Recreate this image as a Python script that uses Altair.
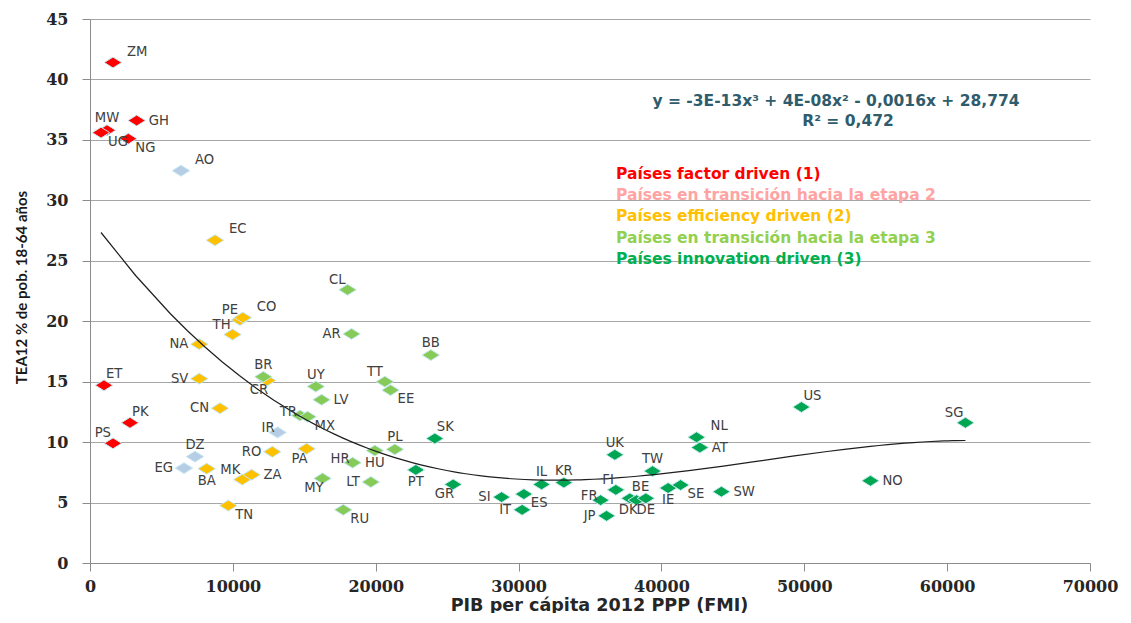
import altair as alt
import pandas as pd

# ---------------- data ----------------
codes = ["ZM", "MW", "UG", "GH", "NG", "ET", "PK", "PS",
         "AO", "IR", "DZ", "EG",
         "EC", "PE", "CO", "TH", "NA", "SV", "CR", "CN", "RO", "PA", "BA", "MK", "ZA", "TN",
         "CL", "AR", "BB", "BR", "UY", "LV", "TT", "EE", "TR", "MX", "HU", "PL", "HR", "MY", "LT", "RU",
         "SK", "PT", "GR", "SI", "ES", "IT", "IL", "KR", "UK", "FI", "FR", "JP", "BE", "DK", "DE",
         "TW", "IE", "SE", "NL", "AT", "SW", "US", "NO", "SG"]

gdp = [1610, 1190, 770, 3270, 2680, 980, 2800, 1610,
       6370, 13130, 7350, 6580,
       8750, 10500, 10700, 9980, 7650, 7650, 12400, 9100, 12760, 15160, 8170, 10660, 11310, 9680,
       18030, 18310, 23860, 12130, 15810, 16210, 20640, 21040, 14700, 15230, 19940, 21340, 18380, 16280, 19660, 17730,
       24140, 22810, 25420, 28810, 30370, 30250, 31610, 33170, 36740, 36810, 35740, 36160, 37790, 38260, 38910,
       39380, 40470, 41340, 42460, 42690, 44200, 49800, 54630, 61280]

tea = [41.4, 35.8, 35.6, 36.6, 35.1, 14.7, 11.6, 9.9,
       32.45, 10.8, 8.8, 7.85,
       26.7, 20.1, 20.3, 18.9, 18.1, 15.25, 15.1, 12.8, 9.2, 9.45, 7.8, 6.9, 7.3, 4.75,
       22.6, 18.95, 17.2, 15.4, 14.6, 13.5, 15.0, 14.3, 12.2, 12.1, 9.3, 9.4, 8.3, 7.0, 6.7, 4.4,
       10.3, 7.7, 6.5, 5.45, 5.7, 4.4, 6.5, 6.65, 8.95, 6.05, 5.2, 3.9, 5.35, 5.2, 5.35,
       7.6, 6.2, 6.45, 10.4, 9.55, 5.9, 12.9, 6.8, 11.6]

groups = (["factor"] * 8 + ["trans2"] * 4 + ["efficiency"] * 14 +
          ["trans3"] * 16 + ["innovation"] * 24)

group_names = ["factor", "trans2", "efficiency", "trans3", "innovation"]
marker_colors = ["#FF0000", "#B7CDE6", "#FFC000", "#86CA57", "#00A651"]

legend_labels = ["Países factor driven (1)",
                 "Países en transición hacia la etapa 2",
                 "Países efficiency driven (2)",
                 "Países en transición hacia la etapa 3",
                 "Países innovation driven (3)"]
legend_colors = ["#FF0000", "#FFA3A3", "#FFC000", "#92D050", "#00B050"]

equation_text = "y = -3E-13x³ + 4E-08x² - 0,0016x + 28,774"
r2_text = "R² = 0,472"

x_ticks = [0, 10000, 20000, 30000, 40000, 50000, 60000, 70000]
y_ticks = [0, 5, 10, 15, 20, 25, 30, 35, 40, 45]

# ---------------- label placement (style) ----------------
label_pos = {
    "ZM": "tr", "MW": "t", "UG": "br", "GH": "r", "NG": "br", "ET": "tc", "PK": "tc", "PS": "tl",
    "AO": "tr", "IR": "ul", "DZ": "t", "EG": "l",
    "EC": "tr", "PE": "tl", "CO": "tr", "TH": "tl", "NA": "l", "SV": "l", "CR": "bl", "CN": "l",
    "RO": "l", "PA": "bl", "BA": "b", "MK": "tl", "ZA": "r", "TN": "br",
    "CL": "tl", "AR": "l", "BB": "t", "BR": "t", "UY": "t", "LV": "r", "TT": "tl", "EE": "br",
    "TR": "ul", "MX": "br", "HU": "b", "PL": "t", "HR": "ul", "MY": "bl", "LT": "l", "RU": "br",
    "SK": "tc", "PT": "b", "GR": "bl", "SI": "l", "ES": "br", "IT": "l", "IL": "t", "KR": "t",
    "UK": "t", "FI": "tl", "FR": "ul", "JP": "l", "BE": "tc", "DK": "bl", "DE": "b",
    "TW": "t", "IE": "b", "SE": "br", "NL": "tr", "AT": "r", "SW": "r", "US": "tc", "NO": "r",
    "SG": "tl",
}
placements = {
    "tr": ("left", 14, -11),
    "tc": ("left", 2, -11),
    "tl": ("right", -2, -10),
    "ul": ("right", -3, -4),
    "l": ("right", -11, 0),
    "r": ("left", 12, 0),
    "t": ("center", 0, -12),
    "b": ("center", 0, 12),
    "bl": ("right", 1, 10),
    "br": ("left", 7, 9),
}

df = pd.DataFrame({"code": codes, "gdp": gdp, "tea": tea, "group": groups})
df["pos"] = df["code"].map(label_pos)

x_enc = alt.X("gdp:Q",
              scale=alt.Scale(domain=[0, 70000], nice=False),
              axis=alt.Axis(values=x_ticks, format="d", grid=False,
                            title="PIB per cápita 2012 PPP (FMI)",
                            titleFont="DejaVu Sans", titleFontSize=17.6, titleFontWeight="bold",
                            titleColor="#262626", titleX=509, titleY=42,
                            titleBaseline="middle", titleAlign="center",
                            labelFont="DejaVu Serif", labelFontSize=16, labelFontWeight="bold",
                            labelColor="#262626", labelPadding=7,
                            tickSize=8, tickColor="#8c8c8c", domainColor="#8c8c8c",
                            labelFlush=False))
y_enc = alt.Y("tea:Q",
              scale=alt.Scale(domain=[0, 45], nice=False),
              axis=alt.Axis(values=y_ticks, grid=True, gridColor="#a6a6a6", gridWidth=1.2,
                            title="TEA12 % de pob. 18-64 años",
                            titleFont="Lato", titleFontSize=15, titleFontWeight="bold",
                            titleColor="#1a1a1a", titleAngle=270, titleX=-69, titleY=268,
                            titleBaseline="middle", titleAlign="center",
                            labelFont="DejaVu Serif", labelFontSize=16, labelFontWeight="bold",
                            labelColor="#262626", labelPadding=14,
                            tickSize=8, tickColor="#8c8c8c", domainColor="#8c8c8c"))

base = alt.Chart(df)

points = base.mark_point(
    shape="M-1.6,0L0,-1L1.6,0L0,1Z", filled=True, size=118,
    stroke="#C4E8F0", strokeWidth=1, opacity=1,
).encode(
    x=x_enc, y=y_enc,
    color=alt.Color("group:N", scale=alt.Scale(domain=group_names, range=marker_colors), legend=None),
)

trend = base.transform_regression(
    "gdp", "tea", method="poly", order=3
).mark_line(color="#1e1e1e", strokeWidth=1.2).encode(x="gdp:Q", y="tea:Q")

label_layers = []
for key, (al, dx, dy) in placements.items():
    label_layers.append(
        base.transform_filter(alt.datum.pos == key).mark_text(
            align=al, dx=dx, dy=dy, baseline="middle",
            font="DejaVu Sans", fontSize=13.2, color="#404040",
        ).encode(x="gdp:Q", y="tea:Q", text="code:N")
    )

one = pd.DataFrame({"a": [0]})
annot = []
annot.append(alt.Chart(one).mark_text(
    text=equation_text, font="DejaVu Sans", fontSize=15.5, fontWeight="bold",
    color="#2F5C6C", align="center", baseline="alphabetic",
).encode(x=alt.value(746), y=alt.value(87)))
annot.append(alt.Chart(one).mark_text(
    text=r2_text, font="DejaVu Sans", fontSize=15.5, fontWeight="bold",
    color="#2F5C6C", align="center", baseline="alphabetic",
).encode(x=alt.value(758), y=alt.value(107)))
for i, (lab, col) in enumerate(zip(legend_labels, legend_colors)):
    annot.append(alt.Chart(one).mark_text(
        text=lab, font="DejaVu Sans", fontSize=15.5, fontWeight="bold",
        color=col, align="left", baseline="alphabetic",
    ).encode(x=alt.value(526), y=alt.value(160 + 21.2 * i)))

chart = alt.layer(points, trend, *label_layers, *annot).properties(
    width=1000, height=544,
    autosize="none",
    padding={"left": 82, "top": 11, "right": 30, "bottom": 50},
    background="white",
).configure_view(strokeWidth=0)

chart.save("out.html", embed_options={"renderer": "svg", "actions": False})
